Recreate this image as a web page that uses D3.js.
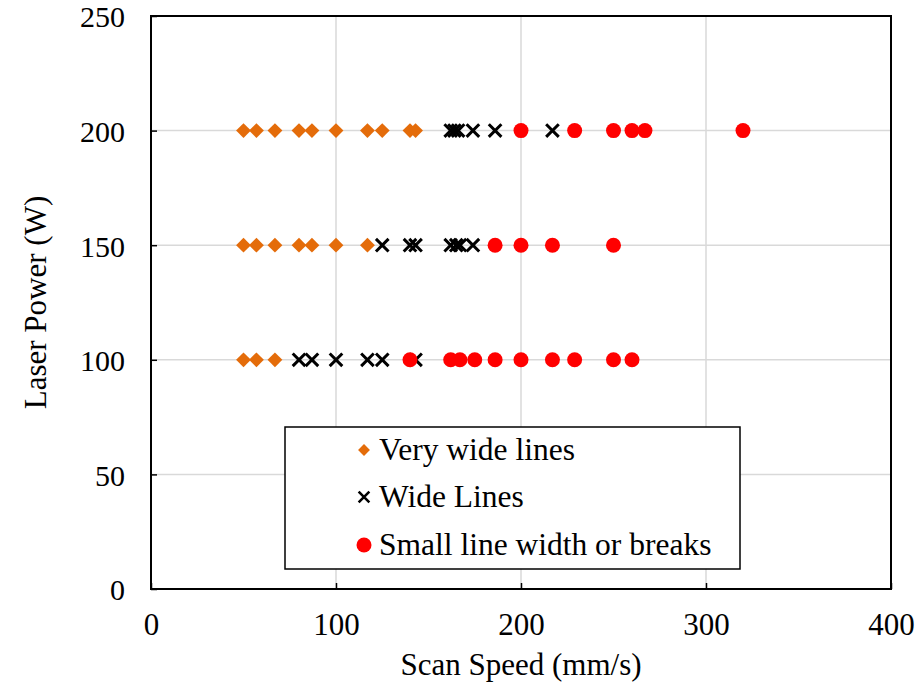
<!DOCTYPE html>
<html>
<head>
<meta charset="utf-8">
<script src="https://cdn.jsdelivr.net/npm/d3@7"></script>
<style>
  html, body { margin: 0; padding: 0; background: #fff; }
  svg text { font-family: "Liberation Serif", "Times New Roman", serif; fill: #000; }
</style>
</head>
<body>
<svg id="chart" width="924" height="690"></svg>
<script>
// Scan speed (mm/s) at each laser power level, grouped by line outcome
const veryWide100 = [50, 57, 67];
const veryWide150 = [50, 57, 67, 80, 87, 100, 117];
const veryWide200 = [50, 57, 67, 80, 87, 100, 117, 125, 140, 143];

const wide100 = [80, 87, 100, 117, 125, 143];
const wide150 = [125, 140, 143, 162, 165, 167, 174];
const wide200 = [162, 164, 166, 174, 186, 217];

const small100 = [140, 162, 167, 175, 186, 200, 217, 229, 250, 260];
const small150 = [186, 200, 217, 250];
const small200 = [200, 229, 250, 260, 267, 320];

const xTicks = [0, 100, 200, 300, 400];
const yTicks = [0, 50, 100, 150, 200, 250];

const legendLabels = ["Very wide lines", "Wide Lines", "Small line width or breaks"];

const toPoints = (power, speeds) => speeds.map(s => ({ x: s, y: power }));
const veryWide = [...toPoints(100, veryWide100), ...toPoints(150, veryWide150), ...toPoints(200, veryWide200)];
const wide = [...toPoints(100, wide100), ...toPoints(150, wide150), ...toPoints(200, wide200)];
const small = [...toPoints(100, small100), ...toPoints(150, small150), ...toPoints(200, small200)];

const svg = d3.select("#chart");
const margin = { left: 151, right: 33, top: 16, bottom: 101 };
const W = 924, H = 690;

const x = d3.scaleLinear().domain([0, 400]).range([margin.left, W - margin.right]);
const y = d3.scaleLinear().domain([0, 250]).range([H - margin.bottom, margin.top]);

// Gridlines
svg.append("g").selectAll("line.vg").data(xTicks.slice(1, -1)).join("line")
  .attr("x1", d => x(d)).attr("x2", d => x(d))
  .attr("y1", y(0)).attr("y2", y(250))
  .attr("stroke", "#d9d9d9").attr("stroke-width", 1.5);
svg.append("g").selectAll("line.hg").data(yTicks.slice(1, -1)).join("line")
  .attr("x1", x(0)).attr("x2", x(400))
  .attr("y1", d => y(d)).attr("y2", d => y(d))
  .attr("stroke", "#d9d9d9").attr("stroke-width", 1.5);

// Axes with inward ticks
const xAxis = svg.append("g").attr("transform", `translate(0,${y(0)})`)
  .call(d3.axisBottom(x).tickValues(xTicks).tickSize(-6).tickPadding(24).tickSizeOuter(0));
const yAxis = svg.append("g").attr("transform", `translate(${x(0)},0)`)
  .call(d3.axisLeft(y).tickValues(yTicks).tickSize(-6).tickPadding(26).tickSizeOuter(0));
[xAxis, yAxis].forEach(g => {
  g.select(".domain").remove();
  g.selectAll(".tick line").attr("stroke", "#000").attr("stroke-width", 1.5);
  g.selectAll(".tick text").attr("font-family", "Liberation Serif, serif");
});
xAxis.selectAll(".tick text").style("font-size", "31px").attr("dy", "0.71em");
yAxis.selectAll(".tick text").style("font-size", "30px").attr("dy", "0.36em");

// Plot frame
svg.append("rect")
  .attr("x", x(0)).attr("y", y(250))
  .attr("width", x(400) - x(0)).attr("height", y(0) - y(250))
  .attr("fill", "none").attr("stroke", "#000").attr("stroke-width", 2);

// Axis titles
svg.append("text")
  .attr("x", x(200)).attr("y", 675)
  .attr("text-anchor", "middle").style("font-size", "31px")
  .text("Scan Speed (mm/s)");
svg.append("text")
  .attr("transform", `translate(46,${(y(0) + y(250)) / 2}) rotate(-90)`)
  .attr("text-anchor", "middle").style("font-size", "31px")
  .text("Laser Power (W)");

// Marker drawers
const diamond = d3.symbol().type(d3.symbolSquare).size(110)();
const plotG = svg.append("g");

function drawDiamonds(g, data) {
  g.selectAll("path.dm").data(data).join("path").attr("class", "dm")
    .attr("d", diamond)
    .attr("transform", d => `translate(${x(d.x)},${y(d.y)}) rotate(45)`)
    .attr("fill", "#e46c0a");
}
function drawCrosses(g, data) {
  const s = 6.3;
  g.selectAll("path.cr").data(data).join("path").attr("class", "cr")
    .attr("d", `M${-s},${-s}L${s},${s}M${-s},${s}L${s},${-s}`)
    .attr("transform", d => `translate(${x(d.x)},${y(d.y)})`)
    .attr("stroke", "#000").attr("stroke-width", 3).attr("fill", "none");
}
function drawCircles(g, data) {
  g.selectAll("circle.ci").data(data).join("circle").attr("class", "ci")
    .attr("cx", d => x(d.x)).attr("cy", d => y(d.y)).attr("r", 7.5)
    .attr("fill", "#ff0000");
}

drawDiamonds(plotG.append("g"), veryWide);
drawCrosses(plotG.append("g"), wide);
drawCircles(plotG.append("g"), small);

// Legend
const lg = svg.append("g");
lg.append("rect")
  .attr("x", 285).attr("y", 427).attr("width", 455).attr("height", 142)
  .attr("fill", "#fff").attr("stroke", "#000").attr("stroke-width", 1.5);
const ly = [450, 497, 545];
const lx = 364;
drawDiamonds(lg.append("g"), [{ x: x.invert(lx), y: y.invert(ly[0]) }]);
lg.select("path.dm").attr("transform", `translate(${lx},${ly[0]}) rotate(45) scale(0.8)`);
drawCrosses(lg.append("g"), [{ x: x.invert(lx), y: y.invert(ly[1]) }]);
lg.select("path.cr").attr("transform", `translate(${lx},${ly[1]}) scale(0.85)`);
drawCircles(lg.append("g"), [{ x: x.invert(lx), y: y.invert(ly[2]) }]);
lg.selectAll("text").data(legendLabels).join("text")
  .attr("x", 379).attr("y", (d, i) => ly[i])
  .attr("dy", "0.33em").style("font-size", "31.5px")
  .text(d => d);
</script>
</body>
</html>
